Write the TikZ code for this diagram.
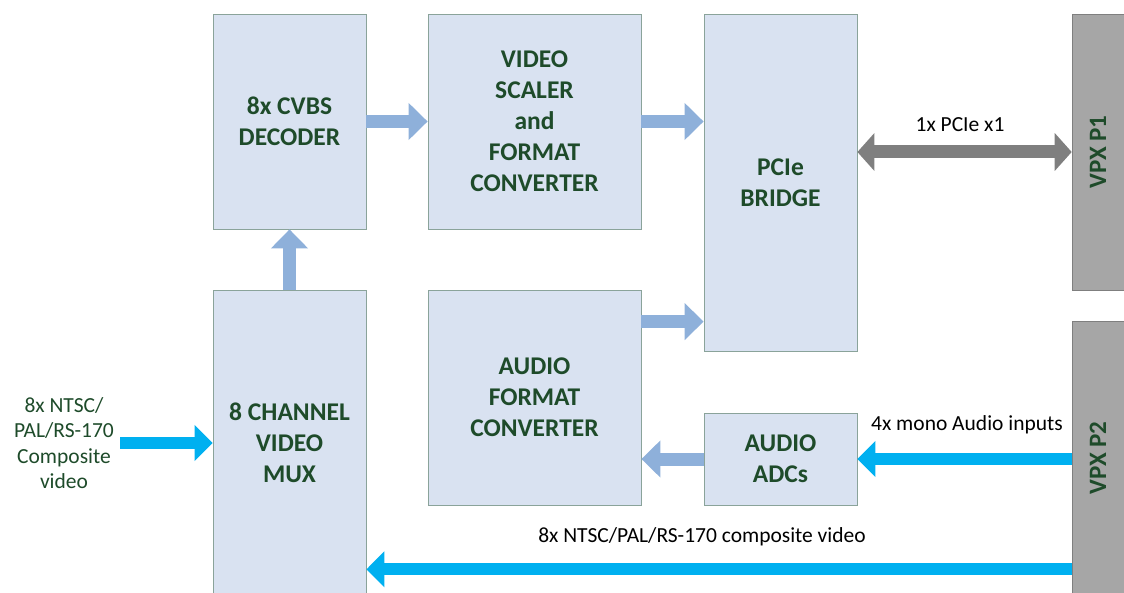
\documentclass[tikz,border=0pt]{standalone}
\usepackage{fontspec}
\setmainfont{Carlito}
\usetikzlibrary{arrows.meta,calc}
\definecolor{boxfill}{HTML}{D9E2F1}
\definecolor{boxline}{HTML}{8AA39A}
\definecolor{txtgreen}{HTML}{1E4B2A}
\definecolor{flowblue}{HTML}{8EB0DA}
\definecolor{cyanarr}{HTML}{00B0F0}
\definecolor{vpxgray}{HTML}{A6A6A6}
\definecolor{busgray}{HTML}{7F7F7F}
\tikzset{
  blk/.style={draw=boxline, line width=0.8pt, fill=boxfill, inner sep=0pt, align=center,
     font=\fontsize{25.5}{31}\selectfont\bfseries, text=txtgreen},
  vpx/.style={draw=busgray, line width=0.6pt, fill=vpxgray, inner sep=0pt},
  flow/.style={draw=flowblue, line width=13pt, -{Triangle[length=19pt,width=36pt]}},
  cyflow/.style={draw=cyanarr, line width=12pt, -{Triangle[length=18pt,width=35pt]}},
  bus/.style={draw=busgray, line width=13pt, {Triangle[length=17pt,width=37pt]}-{Triangle[length=17pt,width=37pt]}},
  lbl/.style={font=\fontsize{21.5}{25}\selectfont, text=black, inner sep=0pt},
}
\begin{document}
\begin{tikzpicture}[x=1pt,y=-1pt]
\useasboundingbox (0,0) rectangle (1124,593);
% boxes
\node[blk, minimum width=153pt, minimum height=215pt] (dec) at (289.5,121.5) {8x CVBS\\DECODER};
\node[blk, minimum width=213pt, minimum height=215pt] (scl) at (534.5,121.5) {VIDEO\\SCALER\\and\\FORMAT\\CONVERTER};
\node[blk, minimum width=153pt, minimum height=337pt] (pcie) at (780.5,182.5) {PCIe\\BRIDGE};
\node[blk, minimum width=153pt, minimum height=306pt] (mux) at (289.5,443) {8 CHANNEL\\VIDEO\\MUX};
\node[blk, minimum width=213pt, minimum height=215pt] (acv) at (534.5,397.5) {AUDIO\\FORMAT\\CONVERTER};
\node[blk, minimum width=153pt, minimum height=92pt] (adc) at (780.5,459) {AUDIO\\ADCs};
\node[vpx, minimum width=56pt, minimum height=276pt] (vp1) at (1100,152) {};
\node[vpx, minimum width=56pt, minimum height=274pt] (vp2) at (1100,458) {};
\node[rotate=90, font=\fontsize{25}{28}\selectfont\bfseries, text=txtgreen] at (1098,152) {VPX P1};
\node[rotate=90, font=\fontsize{25}{28}\selectfont\bfseries, text=txtgreen] at (1098,458) {VPX P2};
% internal flows
\draw[flow] (dec.east) -- (scl.west);
\draw[flow] (scl.east) -- (scl.east -| pcie.west);
\coordinate (acvout) at ($(acv.north east)+(0,32)$);
\draw[flow] (acvout) -- (acvout -| pcie.west);
\draw[flow] (mux.north) -- (dec.south);
\draw[flow] (adc.west) -- (adc.west -| acv.east);
% external
\draw[bus] (vp1.west) -- (vp1.west -| pcie.east);
\draw[cyflow] (adc.east -| vp2.west) -- (adc.east);
\coordinate (botin) at ($(vp2.south west)+(0,-26)$);
\draw[cyflow] (botin) -- (botin -| mux.east);
\coordinate (leftin) at (120,443);
\draw[cyflow] (leftin) -- (mux.west);
% labels
\node[lbl] (l1) at (960,125) {1x PCIe x1};
\node[lbl] (l2) at (967,425) {4x mono Audio inputs};
\node[lbl] (l3) at (702,537) {8x NTSC/PAL/RS-170 composite video};
\node[lbl, text=txtgreen, align=center, font=\fontsize{21.5}{25.5}\selectfont] (l4) at (64,443) {8x NTSC/\\PAL/RS-170\\Composite\\video};
\end{tikzpicture}
\end{document}
